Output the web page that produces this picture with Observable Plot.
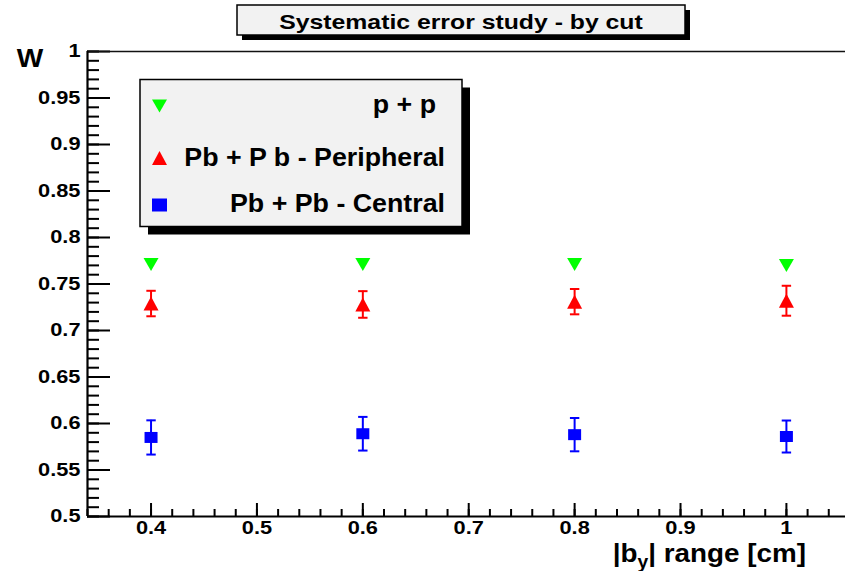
<!DOCTYPE html>
<html>
<head>
<meta charset="utf-8">
<script src="https://cdn.jsdelivr.net/npm/d3@7"></script>
<script src="https://cdn.jsdelivr.net/npm/@observablehq/plot@0.6"></script>
<style>
  html, body { margin: 0; padding: 0; background: #fff; }
  #chart { width: 845px; height: 571px; overflow: hidden; }
</style>
</head>
<body>
<div id="chart"></div>
<script>
// |b_y| cut values and the W estimate for each collision system
const cuts = [0.4, 0.6, 0.8, 1.0];
const wPP = [0.771, 0.771, 0.771, 0.770];
const wPeripheral = [0.729, 0.728, 0.731, 0.732];
const ePeripheral = [0.0137, 0.0143, 0.0136, 0.0161];
const wCentral = [0.585, 0.589, 0.588, 0.586];
const eCentral = [0.0184, 0.0181, 0.0179, 0.0172];

const seriesNames = ["p + p", "Pb + P b - Peripheral", "Pb + Pb - Central"];
const seriesColors = ["#00ff00", "#ff0000", "#0000ff"];

const titleText = "Systematic error study - by cut";
const yTitle = "W";

// axis ticks and their labels
const xMajor = [0.4, 0.5, 0.6, 0.7, 0.8, 0.9, 1.0];
const xLabels = ["0.4", "0.5", "0.6", "0.7", "0.8", "0.9", "1"];
const xMinor = d3.range(17, 53).map(i => +(i * 0.02).toFixed(2));
const yMajor = [0.5, 0.55, 0.6, 0.65, 0.7, 0.75, 0.8, 0.85, 0.9, 0.95, 1.0];
const yLabels = ["0.5", "0.55", "0.6", "0.65", "0.7", "0.75", "0.8", "0.85", "0.9", "0.95", "1"];
const yMinor = d3.range(50, 101).map(i => +(i * 0.01).toFixed(2));

const xDomain = [0.34, 1.0558];
const yDomain = [0.5, 1.0];

// build rows for the marks
const ppRows = cuts.map((x, i) => ({x, w: wPP[i]}));
const periphRows = cuts.map((x, i) => ({x, w: wPeripheral[i], e: ePeripheral[i]}));
const centralRows = cuts.map((x, i) => ({x, w: wCentral[i], e: eCentral[i]}));

// marker shapes (bounding box centred on the point)
const downTriangle = {draw(c) { c.moveTo(-7.5, -6.5); c.lineTo(7.5, -6.5); c.lineTo(0, 6.5); c.closePath(); }};
const upTriangle = {draw(c) { c.moveTo(0, -7); c.lineTo(7.5, 7); c.lineTo(-7.5, 7); c.closePath(); }};
const box = {draw(c) { c.rect(-6.5, -5.5, 13, 11); }};
const cap = {draw(c) { c.moveTo(-4.7, 0); c.lineTo(4.7, 0); }};

const width = 845, height = 571;
const mL = 87, mR = 0, mT = 51, mB = 55;
const innerW = width - mL - mR, innerH = height - mT - mB;
const font = "'Liberation Sans', Arial, Helvetica, sans-serif";

function errorMarks(rows, color) {
  return [
    Plot.ruleX(rows, {x: "x", y1: d => d.w - d.e, y2: d => d.w + d.e, stroke: color, strokeWidth: 2}),
    Plot.dot(rows, {x: "x", y: d => d.w - d.e, symbol: cap, stroke: color, strokeWidth: 2, fill: "none"}),
    Plot.dot(rows, {x: "x", y: d => d.w + d.e, symbol: cap, stroke: color, strokeWidth: 2, fill: "none"})
  ];
}

const svgEl = Plot.plot({
  width, height,
  marginLeft: mL, marginRight: mR, marginTop: mT, marginBottom: mB,
  style: {fontFamily: font, fontWeight: "bold", background: "#fff", color: "#000", overflow: "hidden"},
  x: {domain: xDomain},
  y: {domain: yDomain},
  marks: [
    // inward ticks
    Plot.tickY(yMinor, {y: d => d, insetRight: innerW - 12, stroke: "#000", strokeWidth: 2}),
    Plot.tickY(yMajor, {y: d => d, insetRight: innerW - 23, stroke: "#000", strokeWidth: 2}),
    Plot.tickX(xMinor, {x: d => d, insetTop: innerH - 7, stroke: "#000", strokeWidth: 2}),
    Plot.tickX(xMajor, {x: d => d, insetTop: innerH - 13, stroke: "#000", strokeWidth: 2}),
    // frame lines
    Plot.ruleY([yDomain[1]], {stroke: "#111", strokeWidth: 1.3}),
    Plot.ruleX([xDomain[0]], {stroke: "#000", strokeWidth: 2.2}),
    Plot.ruleY([yDomain[0]], {stroke: "#000", strokeWidth: 2.2}),
    // tick labels
    Plot.axisY({ticks: yMajor, tickSize: 0, tickPadding: 7, fontSize: 18, label: null,
      tickFormat: d => yLabels[yMajor.indexOf(d)]}),
    Plot.axisX({ticks: xMajor, tickSize: 0, tickPadding: 5, fontSize: 18, label: null,
      tickFormat: d => xLabels[xMajor.indexOf(d)]}),
    // error bars
    ...errorMarks(periphRows, seriesColors[1]),
    ...errorMarks(centralRows, seriesColors[2]),
    // markers
    Plot.dot(ppRows, {x: "x", y: "w", symbol: downTriangle, fill: seriesColors[0], stroke: "none"}),
    Plot.dot(periphRows, {x: "x", y: "w", symbol: upTriangle, fill: seriesColors[1], stroke: "none"}),
    Plot.dot(centralRows, {x: "x", y: "w", symbol: box, fill: seriesColors[2], stroke: "none"})
  ]
});

document.getElementById("chart").append(svgEl);
const svg = d3.select(svgEl);

// widen text horizontally by factor k
function stretch(sel, k) {
  sel.each(function() {
    const L = this.getComputedTextLength();
    this.setAttribute("textLength", L * k);
    this.setAttribute("lengthAdjust", "spacingAndGlyphs");
  });
}

stretch(svg.selectAll("g[aria-label$='tick label'] text"), 1.21);

// title box with drop shadow
const tb = {x: 237, y: 5, w: 448, h: 30};
svg.append("rect").attr("x", tb.x + 5).attr("y", tb.y + 5).attr("width", tb.w).attr("height", tb.h).attr("fill", "#000");
svg.append("rect").attr("x", tb.x).attr("y", tb.y).attr("width", tb.w).attr("height", tb.h)
  .attr("fill", "#f2f2f2").attr("stroke", "#000").attr("stroke-width", 1.5);
const title = svg.append("text").attr("x", tb.x + tb.w / 2).attr("y", 28.5)
  .attr("text-anchor", "middle").attr("font-family", font).attr("font-weight", "bold")
  .attr("font-size", 21).text(titleText);
stretch(title, 1.18);

// axis titles
const wt = svg.append("text").attr("x", 30).attr("y", 66.5).attr("text-anchor", "middle")
  .attr("font-family", font).attr("font-weight", "bold").attr("font-size", 25.5).text(yTitle);
stretch(wt, 1.1);

const xt = svg.append("text").attr("x", 806).attr("y", 562).attr("text-anchor", "end")
  .attr("font-family", font).attr("font-weight", "bold").attr("font-size", 26);
xt.append("tspan").text("|b");
xt.append("tspan").attr("font-size", 18).attr("dy", 6).text("y");
xt.append("tspan").attr("dy", -6).text("| range [cm]");
stretch(xt, 1.07);

// legend box with drop shadow
const lb = {x: 140, y: 79.5, w: 322, h: 147};
svg.append("rect").attr("x", lb.x + 8).attr("y", lb.y + 8).attr("width", lb.w).attr("height", lb.h).attr("fill", "#000");
svg.append("rect").attr("x", lb.x).attr("y", lb.y).attr("width", lb.w).attr("height", lb.h)
  .attr("fill", "#f2f2f2").attr("stroke", "#000").attr("stroke-width", 1.5);

const legendSymbols = [downTriangle, upTriangle, {draw(c) { c.rect(-7.5, -6.5, 15, 13); }}];
const legendRows = [
  {my: 106, ty: 112.7, tx: 436},
  {my: 158, ty: 165.7, tx: 445},
  {my: 205, ty: 211.7, tx: 445}
];
legendRows.forEach((r, i) => {
  const p = d3.path();
  legendSymbols[i].draw(p);
  svg.append("path").attr("d", p.toString()).attr("transform", `translate(159.5,${r.my})`)
    .attr("fill", seriesColors[i]);
  const t = svg.append("text").attr("x", r.tx).attr("y", r.ty).attr("text-anchor", "end")
    .attr("font-family", font).attr("font-weight", "bold").attr("font-size", 25.5).text(seriesNames[i]);
  stretch(t, 1.05);
});
</script>
</body>
</html>
